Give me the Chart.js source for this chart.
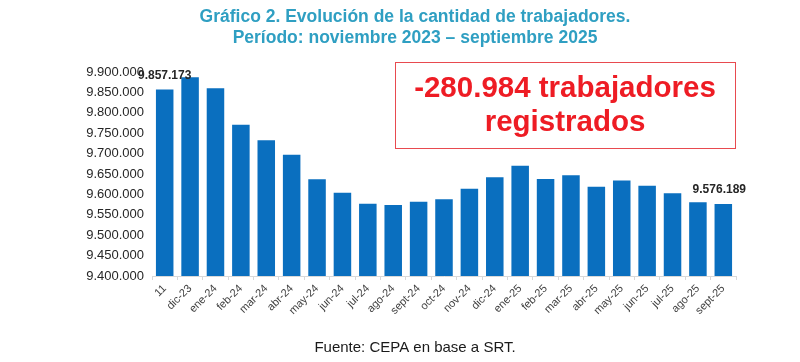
<!DOCTYPE html>
<html>
<head>
<meta charset="utf-8">
<script src="https://cdn.jsdelivr.net/npm/chart.js@4.4.1/dist/chart.umd.min.js"></script>
<style>
  html, body { margin: 0; padding: 0; background: #ffffff; }
  #wrap { width: 800px; height: 362px; position: relative; }
</style>
</head>
<body>
<div id="wrap"><canvas id="chart" width="800" height="362"></canvas></div>
<script>
// Datos: trabajadores registrados, nov-23 a sept-25
const meses = ['11', 'dic-23', 'ene-24', 'feb-24', 'mar-24', 'abr-24', 'may-24', 'jun-24',
  'jul-24', 'ago-24', 'sept-24', 'oct-24', 'nov-24', 'dic-24', 'ene-25', 'feb-25',
  'mar-25', 'abr-25', 'may-25', 'jun-25', 'jul-25', 'ago-25', 'sept-25'];
const trabajadores = [9857173, 9887000, 9860000, 9771000, 9733000, 9697000, 9637000, 9604000,
  9577000, 9574000, 9582000, 9588000, 9614000, 9642000, 9670000, 9638000,
  9647000, 9619000, 9634000, 9621000, 9603000, 9581000, 9576189];
// barras con etiqueta de valor (índices)
const etiquetados = [0, 22];
const tituloLineas = ['Gráfico 2. Evolución de la cantidad de trabajadores.',
  'Período: noviembre 2023 – septiembre 2025'];
const cajaLineas = ['-280.984 trabajadores', 'registrados'];
const fuente = 'Fuente: CEPA en base a SRT.';

function formatoMiles(v) {
  return String(Math.round(v)).replace(/\B(?=(\d{3})+(?!\d))/g, '.');
}

// Títulos, recuadro rojo, fuente y etiquetas
const extras = {
  id: 'extras',
  afterDatasetsDraw(chart) {
    const ctx = chart.ctx;
    ctx.save();

    // etiquetas de valor
    const meta = chart.getDatasetMeta(0);
    ctx.fillStyle = '#262626';
    ctx.font = 'bold 12px "Liberation Sans", Arial, sans-serif';
    ctx.textAlign = 'center';
    ctx.textBaseline = 'bottom';
    etiquetados.forEach(i => {
      const bar = meta.data[i];
      const dx = i === 0 ? 0 : -4;
      ctx.fillText(formatoMiles(trabajadores[i]), bar.x + dx, bar.y - 8);
    });

    // título
    ctx.fillStyle = '#2f9fc2';
    ctx.font = 'bold 17.5px "Liberation Sans", Arial, sans-serif';
    ctx.textBaseline = 'middle';
    ctx.fillText(tituloLineas[0], 415, 17);
    ctx.fillText(tituloLineas[1], 415, 38);

    // recuadro
    ctx.strokeStyle = '#e84a4f';
    ctx.lineWidth = 1;
    ctx.strokeRect(395.5, 62.5, 340, 86);
    ctx.fillStyle = '#ee1c24';
    ctx.font = 'bold 29.5px "Liberation Sans", Arial, sans-serif';
    ctx.fillText(cajaLineas[0], 565, 89);
    ctx.fillText(cajaLineas[1], 565, 123);

    // fuente
    ctx.fillStyle = '#1a1a1a';
    ctx.font = '15px "Liberation Sans", Arial, sans-serif';
    ctx.fillText(fuente, 415, 348);
    ctx.restore();
  }
};

new Chart(document.getElementById('chart'), {
  type: 'bar',
  data: {
    labels: meses,
    datasets: [{
      data: trabajadores,
      backgroundColor: '#0a6fbf',
      borderWidth: 0,
      barPercentage: 0.69,
      categoryPercentage: 1.0
    }]
  },
  options: {
    responsive: false,
    animation: false,
    layout: { padding: { left: 0, right: 64, top: 72, bottom: 0 } },
    plugins: {
      legend: { display: false },
      tooltip: { enabled: false }
    },
    scales: {
      x: {
        grid: {
          display: true,
          drawOnChartArea: false,
          offset: true,
          tickLength: 4,
          color: '#d9d9d9'
        },
        border: { color: '#d9d9d9' },
        ticks: {
          color: '#404040',
          font: { size: 11, family: '"Liberation Sans", Arial, sans-serif' },
          minRotation: 45,
          maxRotation: 45,
          autoSkip: false,
          padding: 2
        },
        afterFit(scale) { scale.height = 86; }
      },
      y: {
        min: 9400000,
        max: 9900000,
        grid: { display: false },
        border: { display: false },
        ticks: {
          stepSize: 50000,
          color: '#262626',
          font: { size: 13, family: '"Liberation Sans", Arial, sans-serif' },
          padding: 0,
          callback: v => formatoMiles(v)
        },
        afterFit(scale) { scale.width = 152; }
      }
    }
  },
  plugins: [extras]
});
</script>
</body>
</html>
